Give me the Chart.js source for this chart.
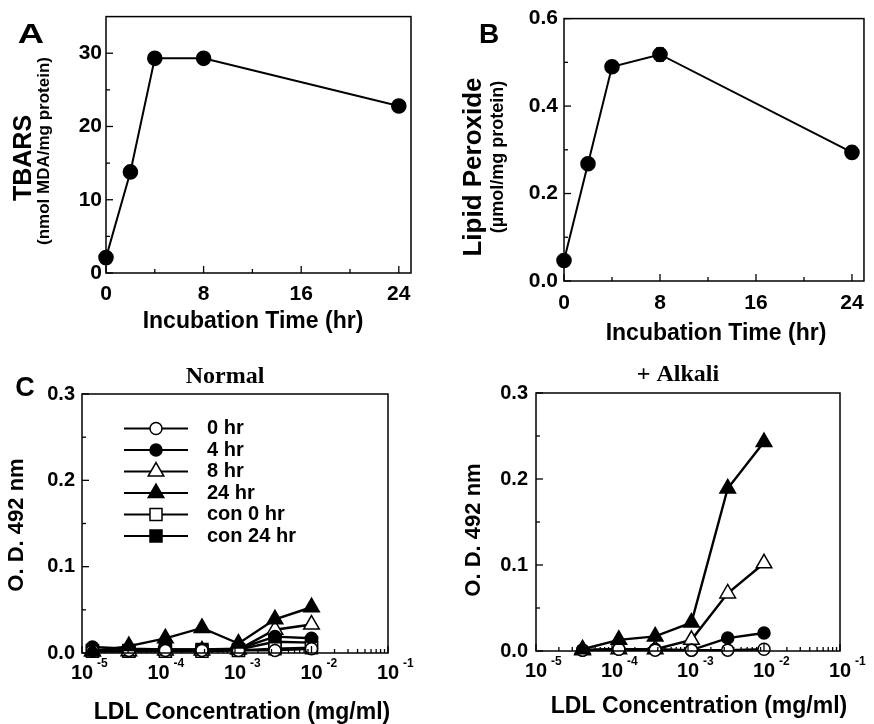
<!DOCTYPE html>
<html>
<head>
<meta charset="utf-8">
<script src="https://cdn.jsdelivr.net/npm/chart.js@4.4.1/dist/chart.umd.min.js"></script>
<style>
  html, body { margin: 0; padding: 0; background: #fff; }
  #wrap { position: relative; width: 874px; height: 724px; overflow: hidden; }
  canvas { position: absolute; }
</style>
</head>
<body>
<div id="wrap">
  <canvas id="graficoA" width="437" height="360" style="left:0;top:0"></canvas>
  <canvas id="graficoB" width="437" height="360" style="left:437px;top:0"></canvas>
  <canvas id="graficoNormal" width="437" height="364" style="left:0;top:360px"></canvas>
  <canvas id="graficoAlcali" width="437" height="364" style="left:437px;top:360px"></canvas>
</div>
<script>
/* ==============================================
    DADOS
   ============================================== */
const tempoHoras = [0, 2, 4, 8, 24];
const tbars = [2.1, 13.8, 29.3, 29.3, 22.8];
const peroxidoLipidico = [0.047, 0.268, 0.490, 0.518, 0.294];
const erroPeroxido = [0, 0, 0, 0.015, 0];

const ticksTempo = [0, 8, 16, 24];
const ticksTbars = [0, 10, 20, 30];
const ticksPeroxido = [0, 0.2, 0.4, 0.6];
const ticksOD = [0, 0.1, 0.2, 0.3];
const ticksLDL = [1e-5, 1e-4, 1e-3, 1e-2, 1e-1];

const menoresTempo = [4, 12, 20];
const menoresTbars = [5, 15, 25];
const menoresPeroxido = [0.1, 0.3, 0.5];
const menoresOD = [0.05, 0.15, 0.25];

const ldlNormal = [1.37e-5, 4.1e-5, 1.23e-4, 3.7e-4, 1.11e-3, 3.33e-3, 1e-2];
const ldlAlcali = [4.1e-5, 1.23e-4, 3.7e-4, 1.11e-3, 3.33e-3, 1e-2];

const rotulosSerie = ['0 hr', '4 hr', '8 hr', '24 hr', 'con 0 hr', 'con 24 hr'];

// painel C - Normal
const normal0h    = [0.003, 0.003, 0.003, 0.003, 0.003, 0.003, 0.005];
const normal4h    = [0.007, 0.005, 0.004, 0.004, 0.005, 0.019, 0.017];
const normal8h    = [0.002, 0.002, 0.003, 0.003, 0.004, 0.027, 0.033];
const normal24h   = [0.002, 0.008, 0.017, 0.029, 0.011, 0.039, 0.053];
const normalCon0  = [0.002, 0.002, 0.002, 0.002, 0.003, 0.005, 0.006];
const normalCon24 = [0.003, 0.003, 0.004, 0.004, 0.004, 0.013, 0.012];

// painel C - + Alkali
const alcali0h  = [0.001, 0.002, 0.001, 0.001, 0.001, 0.002];
const alcali4h  = [0.001, 0.002, 0.002, 0.001, 0.015, 0.021];
const alcali8h  = [0.001, 0.002, 0.002, 0.013, 0.067, 0.102];
const alcali24h = [0.002, 0.013, 0.017, 0.033, 0.189, 0.243];

/* ==============================================
    ESTILO GERAL
   ============================================== */
const FONTE = "'Liberation Sans', Arial, Helvetica, sans-serif";
const SERIFA = "'Liberation Serif', 'Times New Roman', serif";
Chart.defaults.font.family = FONTE;
Chart.defaults.color = '#000';

const estilos = [
    { forma: 'circle',   cheio: false, raio: 6 },
    { forma: 'circle',   cheio: true,  raio: 6 },
    { forma: 'triangle', cheio: false, raio: 9 },
    { forma: 'triangle', cheio: true,  raio: 9 },
    { forma: 'rect',     cheio: false, raio: 8.5 },
    { forma: 'rect',     cheio: true,  raio: 8.5 }
];

function serie(i, xs, ys) {
    const e = estilos[i];
    return {
        label: rotulosSerie[i],
        data: xs.map((x, k) => ({ x: x, y: ys[k] })),
        borderColor: '#000',
        borderWidth: 2.4,
        pointStyle: e.forma,
        pointRadius: e.raio,
        pointHoverRadius: e.raio,
        pointBackgroundColor: e.cheio ? '#000' : '#fff',
        pointBorderColor: '#000',
        pointBorderWidth: 1.5,
        clip: false,
        order: i === 3 ? 0 : i + 1
    };
}

function serieSimples(xs, ys) {
    return {
        data: xs.map((x, k) => ({ x: x, y: ys[k] })),
        borderColor: '#000',
        borderWidth: 2,
        pointRadius: 6.8,
        pointHoverRadius: 6.8,
        pointBackgroundColor: '#000',
        pointBorderColor: '#000',
        clip: false
    };
}

function texto(ctx, str, x, y, font, opts) {
    opts = opts || {};
    ctx.save();
    ctx.translate(x, y);
    if (opts.rot) ctx.rotate(opts.rot);
    if (opts.sx) ctx.scale(opts.sx, 1);
    ctx.font = font;
    ctx.fillStyle = '#000';
    ctx.textAlign = opts.align || 'center';
    ctx.textBaseline = 'middle';
    ctx.fillText(str, 0, 0);
    ctx.restore();
}

function marcador(ctx, e, x, y) {
    ctx.beginPath();
    if (e.forma === 'circle') {
        ctx.arc(x, y, e.raio, 0, Math.PI * 2);
    } else if (e.forma === 'triangle') {
        for (let k = 0; k < 3; k++) {
            const a = k * 2 * Math.PI / 3;
            const px = x + Math.sin(a) * e.raio, py = y - Math.cos(a) * e.raio;
            if (k === 0) ctx.moveTo(px, py); else ctx.lineTo(px, py);
        }
        ctx.closePath();
    } else {
        const s = e.raio * Math.SQRT1_2;
        ctx.rect(x - s, y - s, 2 * s, 2 * s);
    }
    ctx.fillStyle = e.cheio ? '#000' : '#fff';
    ctx.fill();
    ctx.lineWidth = 1.5;
    ctx.strokeStyle = '#000';
    ctx.stroke();
}

/* ==============================================
    PLUGIN: MOLDURA, MARCAS INTERNAS E TEXTOS
   ============================================== */
function pluginMoldura(cfg) {
    return {
        id: 'moldura',
        afterDatasetsDraw(chart) {
            if (!cfg.erros) return;
            const { ctx, scales } = chart;
            ctx.save();
            ctx.strokeStyle = '#000';
            ctx.lineWidth = 1.5;
            cfg.erros.forEach((err, i) => {
                if (!err) return;
                const px = scales.x.getPixelForValue(cfg.xsErro[i]);
                const y1 = scales.y.getPixelForValue(cfg.ysErro[i] + err);
                const y2 = scales.y.getPixelForValue(cfg.ysErro[i] - err);
                ctx.beginPath();
                ctx.moveTo(px, y1); ctx.lineTo(px, y2);
                ctx.moveTo(px - 4, y1); ctx.lineTo(px + 4, y1);
                ctx.moveTo(px - 4, y2); ctx.lineTo(px + 4, y2);
                ctx.stroke();
            });
            ctx.restore();
        },
        afterDraw(chart) {
            const { ctx, chartArea: a, scales } = chart;
            const sx = scales.x, sy = scales.y;
            ctx.save();
            ctx.strokeStyle = '#000';
            ctx.lineWidth = 1.5;
            ctx.strokeRect(a.left, a.top, a.right - a.left, a.bottom - a.top);

            // marcas para dentro
            ctx.lineWidth = 1.3;
            const marcaX = (v, len) => {
                const px = sx.getPixelForValue(v);
                ctx.beginPath(); ctx.moveTo(px, a.bottom); ctx.lineTo(px, a.bottom - len); ctx.stroke();
            };
            const marcaY = (v, len) => {
                const py = sy.getPixelForValue(v);
                ctx.beginPath(); ctx.moveTo(a.left, py); ctx.lineTo(a.left + len, py); ctx.stroke();
            };
            cfg.ticksX.forEach(v => marcaX(v, 7));
            cfg.ticksY.forEach(v => marcaY(v, 7));
            cfg.menoresY.forEach(v => marcaY(v, 4));
            if (cfg.log) {
                for (let d = -5; d <= -2; d++) {
                    for (let m = 2; m <= 9; m++) marcaX(m * Math.pow(10, d), 4);
                }
                // rótulos 10^n
                cfg.ticksX.forEach(v => {
                    const px = sx.getPixelForValue(v);
                    const n = Math.round(Math.log10(v));
                    texto(ctx, '10', px, a.bottom + 20, 'bold 20px ' + FONTE);
                    texto(ctx, '-' + Math.abs(n), px + 15, a.bottom + 11, 'bold 12px ' + FONTE, { align: 'left' });
                });
            } else {
                cfg.menoresX.forEach(v => marcaX(v, 4));
            }

            // títulos e letras
            cfg.textos.forEach(t => texto(ctx, t.s, t.x, t.y, t.font, t));

            // legenda
            if (cfg.legenda) {
                const L = cfg.legenda;
                rotulosSerie.forEach((r, i) => {
                    const y = L.y0 + i * L.passo;
                    ctx.lineWidth = 2;
                    ctx.beginPath(); ctx.moveTo(L.x1, y); ctx.lineTo(L.x2, y); ctx.stroke();
                    marcador(ctx, estilos[i], (L.x1 + L.x2) / 2, y);
                    texto(ctx, r, L.xt, y, 'bold 20px ' + FONTE, { align: 'left' });
                });
            }
            ctx.restore();
        }
    };
}

/* ==============================================
    CRIAÇÃO DOS GRÁFICOS
   ============================================== */
function criarGrafico(id, cfg) {
    return new Chart(document.getElementById(id).getContext('2d'), {
        type: 'line',
        data: { datasets: cfg.datasets },
        options: {
            responsive: false,
            animation: false,
            events: [],
            layout: { padding: { left: 0, top: cfg.topo, right: cfg.direita, bottom: 0 } },
            plugins: { legend: { display: false }, tooltip: { enabled: false } },
            scales: {
                x: {
                    type: cfg.log ? 'logarithmic' : 'linear',
                    min: cfg.minX, max: cfg.maxX,
                    grid: { display: false, drawTicks: false },
                    border: { display: false },
                    afterFit: s => { s.height = cfg.alturaX; },
                    afterBuildTicks: s => { s.ticks = cfg.ticksX.map(v => ({ value: v })); },
                    ticks: {
                        display: !cfg.log,
                        padding: cfg.padX,
                        autoSkip: false, maxRotation: 0,
                        color: '#000',
                        font: { size: 21, weight: 'bold' }
                    }
                },
                y: {
                    type: 'linear',
                    min: cfg.minY, max: cfg.maxY,
                    grid: { display: false, drawTicks: false },
                    border: { display: false },
                    afterFit: s => { s.width = cfg.larguraY; },
                    afterBuildTicks: s => { s.ticks = cfg.ticksY.map(v => ({ value: v })); },
                    ticks: {
                        padding: cfg.padY,
                        color: '#000',
                        font: { size: cfg.fonteY, weight: 'bold' },
                        callback: v => cfg.casas ? Number(v).toFixed(cfg.casas) : v
                    }
                }
            }
        },
        plugins: [pluginMoldura(cfg)]
    });
}

window.onload = () => {
    const rot = -Math.PI / 2;

    criarGrafico('graficoA', {
        datasets: [serieSimples(tempoHoras, tbars)],
        topo: 13, direita: 26, larguraY: 106, alturaX: 87,
        minX: 0, maxX: 25, minY: 0, maxY: 35,
        ticksX: ticksTempo, ticksY: ticksTbars, menoresX: menoresTempo, menoresY: menoresTbars,
        padX: 9, padY: 4, fonteY: 21, casas: 0,
        textos: [
            { s: 'A', x: 31, y: 35, font: 'bold 28px ' + FONTE, sx: 1.3 },
            { s: 'TBARS', x: 24, y: 158, font: 'bold 25px ' + FONTE, rot: rot },
            { s: '(nmol MDA/mg protein)', x: 44, y: 151, font: 'bold 17px ' + FONTE, rot: rot },
            { s: 'Incubation Time (hr)', x: 253, y: 322, font: 'bold 23px ' + FONTE }
        ]
    });

    criarGrafico('graficoB', {
        datasets: [serieSimples(tempoHoras, peroxidoLipidico)],
        topo: 15, direita: 1, larguraY: 127, alturaX: 79,
        minX: 0, maxX: 25, minY: 0, maxY: 0.6,
        ticksX: ticksTempo, ticksY: ticksPeroxido, menoresX: menoresTempo, menoresY: menoresPeroxido,
        padX: 10, padY: 6, fonteY: 21, casas: 1,
        erros: erroPeroxido, xsErro: tempoHoras, ysErro: peroxidoLipidico,
        textos: [
            { s: 'B', x: 52, y: 35, font: 'bold 28px ' + FONTE },
            { s: 'Lipid Peroxide', x: 36.5, y: 167, font: 'bold 26px ' + FONTE, rot: rot },
            { s: '(\u00b5mol/mg protein)', x: 61, y: 157, font: 'bold 18px ' + FONTE, rot: rot },
            { s: 'Incubation Time (hr)', x: 279, y: 334, font: 'bold 23px ' + FONTE }
        ]
    });

    criarGrafico('graficoNormal', {
        datasets: [
            serie(0, ldlNormal, normal0h),
            serie(1, ldlNormal, normal4h),
            serie(2, ldlNormal, normal8h),
            serie(3, ldlNormal, normal24h),
            serie(4, ldlNormal, normalCon0),
            serie(5, ldlNormal, normalCon24)
        ],
        log: true,
        topo: 34, direita: 49, larguraY: 82, alturaX: 71,
        minX: 1e-5, maxX: 1e-1, minY: 0, maxY: 0.3,
        ticksX: ticksLDL, ticksY: ticksOD, menoresY: menoresOD,
        padX: 10, padY: 7, fonteY: 20, casas: 1,
        legenda: { x1: 124, x2: 188, xt: 207, y0: 68.5, passo: 21.5 },
        textos: [
            { s: 'C', x: 25, y: 28.5, font: 'bold 27px ' + FONTE },
            { s: 'Normal', x: 225, y: 17, font: 'bold 24px ' + SERIFA },
            { s: 'O. D. 492 nm', x: 17, y: 165, font: 'bold 22px ' + FONTE, rot: rot },
            { s: 'LDL Concentration (mg/ml)', x: 242, y: 353, font: 'bold 23px ' + FONTE }
        ]
    });

    criarGrafico('graficoAlcali', {
        datasets: [
            serie(0, ldlAlcali, alcali0h),
            serie(1, ldlAlcali, alcali4h),
            serie(2, ldlAlcali, alcali8h),
            serie(3, ldlAlcali, alcali24h)
        ],
        log: true,
        topo: 33, direita: 34, larguraY: 99, alturaX: 73,
        minX: 1e-5, maxX: 1e-1, minY: 0, maxY: 0.3,
        ticksX: ticksLDL, ticksY: ticksOD, menoresY: menoresOD,
        padX: 10, padY: 8, fonteY: 20, casas: 1,
        textos: [
            { s: '+ Alkali', x: 241, y: 15, font: 'bold 24px ' + SERIFA },
            { s: 'O. D. 492 nm', x: 36.5, y: 170, font: 'bold 22px ' + FONTE, rot: rot },
            { s: 'LDL Concentration (mg/ml)', x: 262, y: 347, font: 'bold 23px ' + FONTE }
        ]
    });
};
</script>
</body>
</html>
